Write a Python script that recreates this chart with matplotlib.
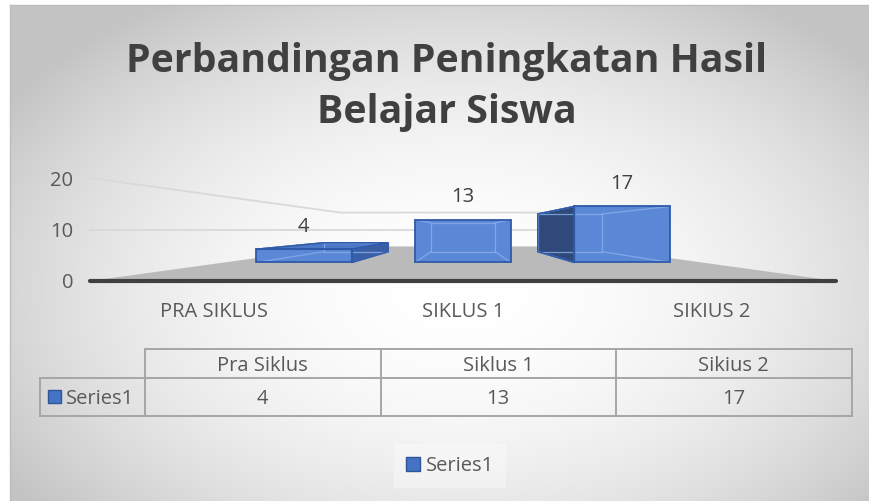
import numpy as np
import matplotlib
matplotlib.use('Agg')
import matplotlib.pyplot as plt
from matplotlib.patches import Polygon, Rectangle, Patch

# ---------------- data ----------------
categories = ["Pra Siklus", "Siklus 1", "Sikius 2"]
axis_labels = ["PRA SIKLUS", "SIKLUS 1", "SIKIUS 2"]
values = [4, 13, 17]
series_name = "Series1"
y_ticks = [0, 10, 20]
title_lines = ["Perbandingan Peningkatan Hasil", "Belajar Siswa"]

plt.rcParams['font.family'] = ['Open Sans', 'DejaVu Sans']

W, H = 869, 501
fig = plt.figure(figsize=(W / 100, H / 100), dpi=100)
fig.patch.set_facecolor('white')

# ---------------- background (pixel coordinates) ----------------
bg = fig.add_axes([0, 0, 1, 1])
bg.set_xlim(0, W)
bg.set_ylim(H, 0)
bg.axis('off')
CA_X, CA_Y = 10, 5
xx, yy = np.meshgrid(np.arange(CA_X, W) + 0.5, np.arange(CA_Y, H) + 0.5)
cx, cy, rx, ry = 460, 290, 490, 310
d2 = ((xx - cx) / rx) ** 2 + ((yy - cy) / ry) ** 2
val = np.clip(1 - 0.19 * d2, 0.77, 1.0)
img = np.dstack([val, val, val])
bg.imshow(img, extent=[CA_X, W, H, CA_Y], interpolation='bilinear', aspect='auto', zorder=0)
bg.plot([CA_X, CA_X], [CA_Y, H], color='#bdbdbd', lw=1, zorder=1)
bg.plot([CA_X, W], [CA_Y, CA_Y], color='#bdbdbd', lw=1, zorder=1)

# title
TITLE_X = 447
for line, base in zip(title_lines, [72, 123]):
    bg.text(TITLE_X, base, line, ha='center', va='baseline', fontsize=28.3,
            fontweight='bold', color='#404040', zorder=5)

# ---------------- main axes (front plane) ----------------
AX_L, AX_R, AX_Y0, AX_Y20 = 90, 836, 281, 178
ax = fig.add_axes([AX_L / W, 1 - AX_Y0 / H, (AX_R - AX_L) / W, (AX_Y0 - AX_Y20) / H])
ax.set_xlim(-0.5, len(values) - 0.5)
ax.set_ylim(0, 20)
ax.patch.set_alpha(0)
for sp in ax.spines.values():
    sp.set_visible(False)
ax.set_yticks(y_ticks)
ax.set_yticklabels([str(t) for t in y_ticks])
ax.set_xticks(range(len(values)))
ax.set_xticklabels(axis_labels)
ax.tick_params(axis='y', length=0, pad=12, labelsize=14.5, labelcolor='#595959')
ax.tick_params(axis='x', length=0, pad=15, labelsize=14.5, labelcolor='#595959')

# perspective
VX, VY = (len(values) - 1) / 2, 10.0
S_WALL, S_FRONT, S_BACK = 0.329, 0.64, 0.43


def proj(x, y, s):
    return (VX + (x - VX) * s, VY + (y - VY) * s)


xl, xr = -0.5, len(values) - 0.5
for g in y_ticks[1:]:
    pts = [proj(xl, g, 1), proj(xl, g, S_WALL), proj(xr, g, S_WALL)]
    ax.plot(*zip(*pts), color='#d9d9d9', lw=1.3, zorder=1, clip_on=False)

floor = [proj(xl, 0, 1), proj(xr, 0, 1), proj(xr, 0, S_WALL), proj(xl, 0, S_WALL)]
ax.add_patch(Polygon(floor, closed=True, fc='#bababa', ec='none', zorder=2, clip_on=False))
ax.plot([xl, xr], [0, 0], color='#404040', lw=3, zorder=3, clip_on=False,
        solid_capstyle='round')

BW = 0.6
C_FRONT, C_TOP, C_RIGHT, C_LEFT = '#5b88d6', '#4b79c8', '#3b5fa5', '#2f4a7a'
C_EDGE, C_HID = '#2e5aa8', '#8aaeea'
for i, v in enumerate(values):
    x0, x1 = i - BW / 2, i + BW / 2
    corners = {'lb': (x0, 0), 'rb': (x1, 0), 'rt': (x1, v), 'lt': (x0, v)}
    F = {k: proj(x, y, S_FRONT) for k, (x, y) in corners.items()}
    B = {k: proj(x, y, S_BACK) for k, (x, y) in corners.items()}
    z = 4 + i
    faces = []
    if i < VX - 1e-9:
        faces.append(([F['rb'], B['rb'], B['rt'], F['rt']], C_RIGHT))
    elif i > VX + 1e-9:
        faces.append(([F['lb'], B['lb'], B['lt'], F['lt']], C_LEFT))
    if v < VY:
        faces.append(([F['lt'], F['rt'], B['rt'], B['lt']], C_TOP))
    for poly, col in faces:
        ax.add_patch(Polygon(poly, closed=True, fc=col, ec=C_EDGE, lw=1.1,
                             zorder=z, clip_on=False))
    front = [F['lb'], F['rb'], F['rt'], F['lt']]
    ax.add_patch(Polygon(front, closed=True, fc=C_FRONT, ec='none', zorder=z + 0.1,
                         clip_on=False))
    # hidden edges (seen through the translucent front)
    hid = [[B['lb'], B['rb']], [B['rb'], B['rt']], [B['rt'], B['lt']], [B['lt'], B['lb']]]
    hid += [[F[k], B[k]] for k in corners]
    for seg in hid:
        ax.plot(*zip(*seg), color=C_HID, lw=0.9, alpha=0.8, zorder=z + 0.2, clip_on=False)
    ax.add_patch(Polygon(front, closed=True, fc='none', ec=C_EDGE, lw=1.3,
                         zorder=z + 0.3, clip_on=False))
    for poly, col in faces:
        ax.add_patch(Polygon(poly, closed=True, fc='none', ec=C_EDGE, lw=1.1,
                             zorder=z + 0.3, clip_on=False))
    ax.annotate(str(v), xy=proj(i, v, S_FRONT), xytext=(0, 16), textcoords='offset points',
                ha='center', va='center', fontsize=14.5, color='#404040', zorder=12,
                annotation_clip=False)

# ---------------- data table ----------------
T_LEFT, T_X0, T_COLW = 40, 145, 235.5
T_Y = [349, 378, 416]
n = len(categories)
T_X1 = T_X0 + n * T_COLW
lc, lw = '#a6a6a6', 1.4
bg.plot([T_X0, T_X1], [T_Y[0]] * 2, color=lc, lw=lw, zorder=3)
bg.plot([T_LEFT, T_X1], [T_Y[1]] * 2, color=lc, lw=lw, zorder=3)
bg.plot([T_LEFT, T_X1], [T_Y[2]] * 2, color=lc, lw=lw, zorder=3)
bg.plot([T_LEFT, T_LEFT], [T_Y[1], T_Y[2]], color=lc, lw=lw, zorder=3)
for k in range(n + 1):
    bg.plot([T_X0 + k * T_COLW] * 2, [T_Y[0], T_Y[2]], color=lc, lw=lw, zorder=3)
CAP = 7.5
for k, (c, v) in enumerate(zip(categories, values)):
    xc = T_X0 + (k + 0.5) * T_COLW
    bg.text(xc, (T_Y[0] + T_Y[1]) / 2 + CAP, c, ha='center', va='baseline',
            fontsize=14.5, color='#595959', zorder=5)
    bg.text(xc, (T_Y[1] + T_Y[2]) / 2 + CAP, str(v), ha='center', va='baseline',
            fontsize=14.5, color='#595959', zorder=5)
bg.add_patch(Rectangle((48, 390), 13, 13, fc='#4472c4', ec='#2f5597', lw=1, zorder=5))
bg.text(66, (T_Y[1] + T_Y[2]) / 2 + CAP, series_name, ha='left', va='baseline',
        fontsize=14.5, color='#595959', zorder=5)

# ---------------- legend ----------------
handle = Patch(facecolor='#4472c4', edgecolor='#2f5597', label=series_name)
leg = fig.legend(handles=[handle], loc='center', bbox_to_anchor=(450 / W, 1 - 466 / H),
                 frameon=True, fontsize=14.5, handlelength=0.7, handleheight=0.7,
                 handletextpad=0.25, borderpad=0.6, labelcolor='#595959', fancybox=False)
leg.get_frame().set_facecolor('white')
leg.get_frame().set_alpha(0.35)
leg.get_frame().set_edgecolor('none')

fig.savefig('out.png', dpi=100)
